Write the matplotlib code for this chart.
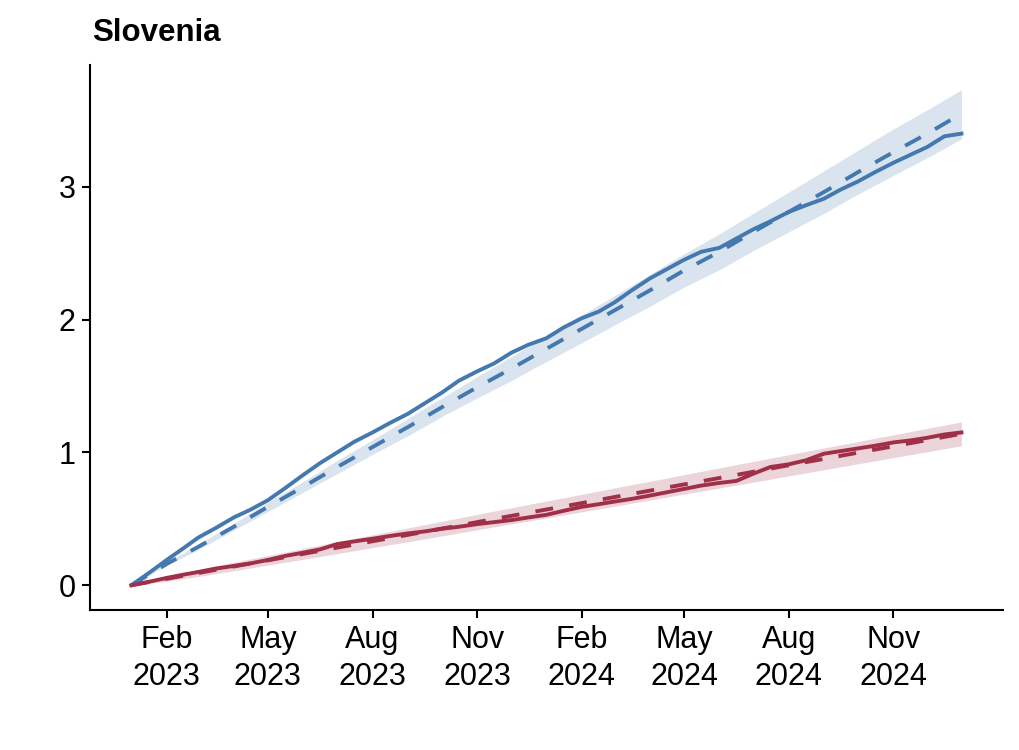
import matplotlib
matplotlib.use("Agg")
import matplotlib.pyplot as plt
import pandas as pd

plt.rcParams['font.family'] = ['Liberation Sans', 'DejaVu Sans']

# observed cumulative values, 1st and 16th of each month
obs_dates = pd.to_datetime([
    "2023-01-01", "2023-01-16", "2023-02-01", "2023-02-16", "2023-03-01", "2023-03-16",
    "2023-04-01", "2023-04-16", "2023-05-01", "2023-05-16", "2023-06-01", "2023-06-16",
    "2023-07-01", "2023-07-16", "2023-08-01", "2023-08-16", "2023-09-01", "2023-09-16",
    "2023-10-01", "2023-10-16", "2023-11-01", "2023-11-16", "2023-12-01", "2023-12-16",
    "2024-01-01", "2024-01-16", "2024-02-01", "2024-02-16", "2024-03-01", "2024-03-16",
    "2024-04-01", "2024-04-16", "2024-05-01", "2024-05-16", "2024-06-01", "2024-06-16",
    "2024-07-01", "2024-07-16", "2024-08-01", "2024-08-16", "2024-09-01", "2024-09-16",
    "2024-10-01", "2024-10-16", "2024-11-01", "2024-11-16", "2024-12-01", "2024-12-16",
    "2024-12-31"])

blue_obs = [0.00, 0.09, 0.19, 0.28, 0.36, 0.43, 0.51, 0.57, 0.64, 0.73, 0.83, 0.92,
            1.00, 1.08, 1.15, 1.22, 1.29, 1.37, 1.45, 1.54, 1.61, 1.67, 1.75, 1.81,
            1.86, 1.94, 2.01, 2.06, 2.13, 2.22, 2.31, 2.38, 2.45, 2.51, 2.54, 2.61,
            2.68, 2.74, 2.81, 2.86, 2.91, 2.98, 3.04, 3.11, 3.18, 3.24, 3.30, 3.38,
            3.40]

red_obs = [0.00, 0.025, 0.055, 0.08, 0.10, 0.125, 0.145, 0.165, 0.19, 0.22, 0.245, 0.27,
           0.31, 0.33, 0.35, 0.37, 0.39, 0.405, 0.425, 0.44, 0.46, 0.475, 0.49, 0.51,
           0.53, 0.56, 0.59, 0.61, 0.63, 0.65, 0.675, 0.70, 0.725, 0.75, 0.77, 0.785,
           0.84, 0.89, 0.91, 0.94, 0.99, 1.01, 1.03, 1.05, 1.075, 1.09, 1.11, 1.135,
           1.15]

# expected values and intervals, monthly
exp_dates = pd.to_datetime([
    "2023-01-01", "2023-02-01", "2023-03-01", "2023-04-01", "2023-05-01", "2023-06-01",
    "2023-07-01", "2023-08-01", "2023-09-01", "2023-10-01", "2023-11-01", "2023-12-01",
    "2024-01-01", "2024-02-01", "2024-03-01", "2024-04-01", "2024-05-01", "2024-06-01",
    "2024-07-01", "2024-08-01", "2024-09-01", "2024-10-01", "2024-11-01", "2024-12-01",
    "2024-12-31"])

blue_exp = [0, 0.16, 0.29, 0.44, 0.59, 0.74, 0.89, 1.04, 1.19, 1.34, 1.49, 1.63,
            1.78, 1.93, 2.07, 2.22, 2.37, 2.51, 2.66, 2.81, 2.96, 3.11, 3.26, 3.40, 3.55]
blue_lo = [0, 0.15, 0.27, 0.415, 0.555, 0.70, 0.84, 0.985, 1.125, 1.27, 1.41, 1.54,
           1.685, 1.825, 1.96, 2.10, 2.245, 2.375, 2.52, 2.66, 2.80, 2.945, 3.085, 3.22, 3.36]
blue_hi = [0, 0.17, 0.31, 0.465, 0.625, 0.78, 0.94, 1.095, 1.255, 1.41, 1.57, 1.72,
           1.875, 2.035, 2.18, 2.34, 2.495, 2.645, 2.80, 2.96, 3.12, 3.275, 3.435, 3.58, 3.73]

red_exp = [0, 0.048, 0.092, 0.141, 0.187, 0.236, 0.283, 0.331, 0.379, 0.426, 0.475, 0.522,
           0.570, 0.618, 0.664, 0.712, 0.759, 0.807, 0.854, 0.903, 0.951, 0.998, 1.046, 1.093, 1.14]
red_lo = [0, 0.030, 0.066, 0.109, 0.151, 0.195, 0.238, 0.283, 0.327, 0.371, 0.417, 0.461,
          0.506, 0.552, 0.595, 0.641, 0.686, 0.731, 0.776, 0.823, 0.869, 0.914, 0.960, 1.005, 1.05]
red_hi = [0, 0.066, 0.118, 0.173, 0.223, 0.277, 0.328, 0.379, 0.431, 0.481, 0.533, 0.583,
          0.634, 0.684, 0.733, 0.783, 0.832, 0.883, 0.932, 0.983, 1.033, 1.082, 1.132, 1.181, 1.23]

tick_dates = pd.to_datetime(["2023-02-01", "2023-05-01", "2023-08-01", "2023-11-01",
                             "2024-02-01", "2024-05-01", "2024-08-01", "2024-11-01"])
tick_labels = ["Feb\n2023", "May\n2023", "Aug\n2023", "Nov\n2023",
               "Feb\n2024", "May\n2024", "Aug\n2024", "Nov\n2024"]

blue = "#4478B0"
red = "#A03048"

fig = plt.figure(figsize=(10.2, 7.5), dpi=100)
ax = fig.add_axes([0.0882, 0.1867, 0.8951, 0.7266])

ax.fill_between(exp_dates, blue_lo, blue_hi, color=blue, alpha=0.2, lw=0)
ax.fill_between(exp_dates, red_lo, red_hi, color=red, alpha=0.2, lw=0)
ax.plot(obs_dates, blue_obs, color=blue, lw=2.8)
ax.plot(obs_dates, red_obs, color=red, lw=2.8)
ax.plot(exp_dates, blue_exp, color=blue, lw=2.8, dashes=(4.6, 4.2))
ax.plot(exp_dates, red_exp, color=red, lw=2.8, dashes=(4.6, 4.2))

ax.margins(x=0.05, y=0.05)
ax.set_yticks([0, 1, 2, 3])
ax.set_xticks(tick_dates)
ax.set_xticklabels(tick_labels, linespacing=1.33)

for s in ["top", "right"]:
    ax.spines[s].set_visible(False)
for s in ["left", "bottom"]:
    ax.spines[s].set_linewidth(1.5)
ax.tick_params(width=1.5, length=5.5, labelsize=22, colors="black")
ax.tick_params(axis="x", pad=5)
ax.tick_params(axis="y", pad=5)

ax.set_title("Slovenia", loc="left", fontsize=22.5, fontweight="bold", pad=17, x=0.002)

fig.savefig("out.png", dpi=100)
